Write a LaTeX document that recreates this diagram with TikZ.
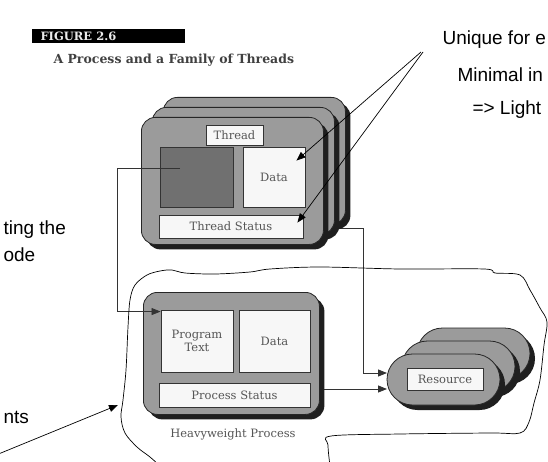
\documentclass[tikz,border=0pt]{standalone}
\usepackage{fontspec}
\setmainfont{DejaVu Serif}
\newfontfamily\notefont{Liberation Sans}
\usetikzlibrary{arrows.meta,shadows,backgrounds,shapes.misc}

\definecolor{cardgray}{RGB}{155,155,155}
\definecolor{codegray}{RGB}{112,112,112}
\definecolor{inkgray}{RGB}{85,85,85}

\begin{document}
\begin{tikzpicture}[x=1pt, y=-1pt, >={Triangle[length=9pt,width=7pt]},
  card/.style={draw=black!85, fill=cardgray, line width=0.8pt, rounded corners=14pt,
    drop shadow={shadow xshift=5pt, shadow yshift=-5pt, fill=black!88, opacity=1},
    inner sep=0pt, anchor=north west},
  pill/.style={rounded rectangle, draw=black!85, fill=cardgray, line width=0.8pt,
    drop shadow={shadow xshift=5pt, shadow yshift=-5pt, fill=black!88, opacity=1},
    minimum width=113pt, minimum height=51pt, inner sep=0pt},
  part/.style={draw=black!80, fill=black!3, line width=0.9pt, inner sep=0pt,
    text=inkgray, font=\fontsize{11.5}{13}\selectfont, align=center},
  wire/.style={line width=0.8pt, black!80},
  note/.style={font=\notefont\fontsize{19}{19}\selectfont, anchor=base west},
  scribble/.style={line width=0.7pt, black}]

  \useasboundingbox (0,0) rectangle (548,462);

  % figure caption
  \node[fill=black, minimum width=153pt, minimum height=14pt, inner sep=0pt,
    anchor=north west] (figbar) at (32,29) {};
  \node[text=white!92!black, font=\bfseries\fontsize{11.5}{12}\selectfont, anchor=west]
    (figno) at (37,36) {FIGURE 2.6};
  \node[text=black!75, font=\bfseries\fontsize{12.5}{14}\selectfont, anchor=west]
    (figtitle) at (50,60) {A Process and a Family of Threads};

  % family of threads
  \node[card, minimum width=182pt, minimum height=127pt] (thr3) at (163,97) {};
  \node[card, minimum width=182pt, minimum height=127pt] (thr2) at (152,107) {};
  \node[card, minimum width=182pt, minimum height=127pt] (thr1) at (141,117) {};
  \node[part, minimum width=57pt, minimum height=20pt] (tname) at (234.5,135) {Thread};
  \node[part, fill=codegray, minimum width=73pt, minimum height=60pt] (tcode) at (196.5,177) {};
  \node[part, minimum width=62pt, minimum height=60pt] (tdata) at (274,177) {Data};
  \node[part, minimum width=144pt, minimum height=23pt] (tstat) at (231,226.5) {Thread Status};

  % heavyweight process
  \node[card, minimum width=176pt, minimum height=122pt] (proc) at (143,292) {};
  \node[part, minimum width=72pt, minimum height=62pt] (ptext) at (197,341) {Program\\Text};
  \node[part, minimum width=71pt, minimum height=62pt] (pdata) at (274.5,341) {Data};
  \node[part, minimum width=151pt, minimum height=24pt] (pstat) at (234.5,395) {Process Status};
  \node[text=inkgray, font=\fontsize{11.5}{13}\selectfont] (plabel) at (233,434) {Heavyweight Process};

  % resources
  \node[pill] (res3) at (473.5,353.5) {};
  \node[pill] (res2) at (458.5,366.5) {};
  \node[pill] (res1) at (443.5,379.5) {};
  \node[part, minimum width=76pt, minimum height=22pt] (rname) at (445,379) {Resource};

  % connectors
  \coordinate (codept) at (180,168);
  \coordinate (bendA) at (117,168);
  \coordinate (bendB) at (363,228);
  \coordinate (resin1) at (387,373);
  \coordinate (resin2) at (387,389);
  \draw[wire, ->] (codept) -- (bendA) |- ([yshift=-2pt]ptext.north west);
  \begin{scope}[on background layer]
    \draw[wire, ->] (tstat.east |- bendB) -- (bendB) |- (resin1);
    \draw[wire, ->] (pstat.east |- resin2) -- (resin2);
  \end{scope}

  % notes
  \node[note] (uniq) at (439,45) {Unique for e};
  \node[note] (mini) at (454,82) {Minimal in};
  \node[note] (light) at (469,115) {=> Light};
  \node[note] (exec) at (0,234) {ting the};
  \node[note] (code) at (0,261) {ode};
  \node[note] (envir) at (0,423) {nts};

  \coordinate (apex) at (421,52);
  \coordinate (noteL) at (-4,455);
  \coordinate (loopL) at (118,405);
  \draw[scribble, ->] (apex) -- ([shift={(-9,14)}]tdata.north east);
  \draw[scribble, ->] ([xshift=2pt]apex) -- ([shift={(-6,8)}]tstat.north east);
  \draw[scribble, ->] (noteL) -- (loopL);

  % hand drawn loop round process and resources
  \draw[scribble] plot[smooth, tension=0.55] coordinates {
    (160,466) (150,457) (137,447) (125,433) (121,417) (123,400) (126,370)
    (128,327) (130,300) (135,285) (147,275) (160,271) (172,270) (185,273)
    (215,274) (250,272) (270,269) (320,267) (400,269) (484,269) (495,273)
    (520,275) (530,290) (540,308) (547,322) (544,345) (540,380) (534,403)
    (529,422) (520,433) (490,433) (400,434) (331,436) (328,445) (330,466)};

\end{tikzpicture}
\end{document}
